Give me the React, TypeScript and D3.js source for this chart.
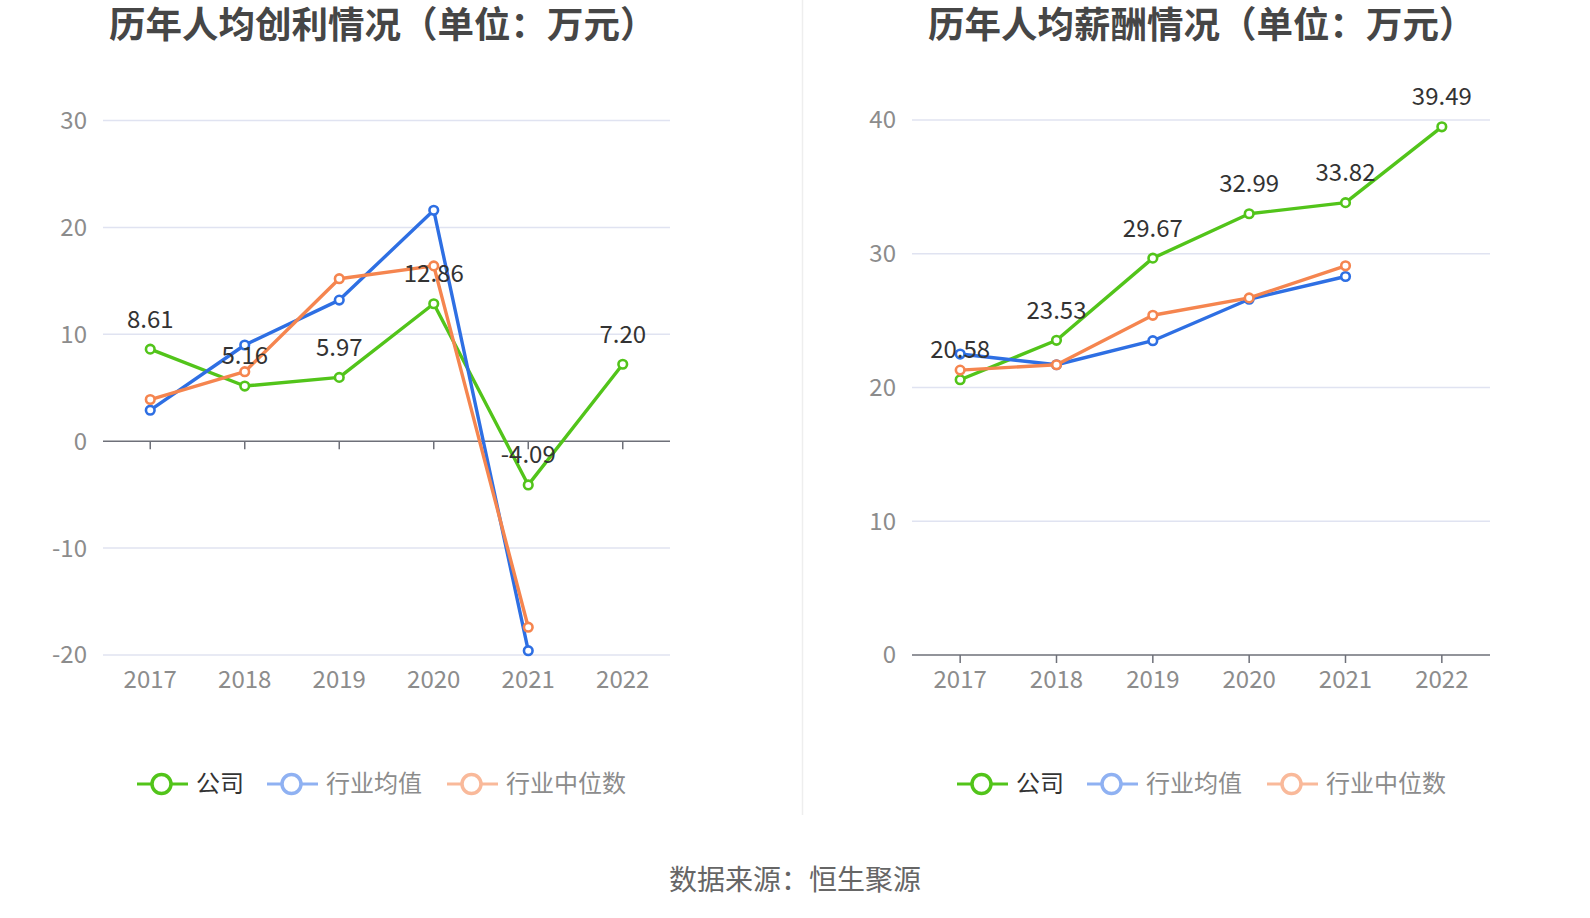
import * as d3 from "d3"
import { useEffect, useRef } from "react"

const years = ["2017", "2018", "2019", "2020", "2021", "2022"]

// 人均创利
const profitCompany = [8.61, 5.16, 5.97, 12.86, -4.09, 7.2]
const profitMean = [2.9, 9.0, 13.2, 21.6, -19.6, null]
const profitMedian = [3.9, 6.5, 15.2, 16.4, -17.4, null]
const profitTicks = [-20, -10, 0, 10, 20, 30]

// 人均薪酬
const salaryCompany = [20.58, 23.53, 29.67, 32.99, 33.82, 39.49]
const salaryMean = [22.5, 21.7, 23.5, 26.6, 28.3, null]
const salaryMedian = [21.3, 21.7, 25.4, 26.7, 29.1, null]
const salaryTicks = [0, 10, 20, 30, 40]

const seriesNames = ["公司", "行业均值", "行业中位数"]
const colors = ["#52c41a", "#2e6fe3", "#f5854f"]
const legendColors = ["#52c41a", "#8fb1f2", "#f9b99a"]
const legendText = ["#333", "#8c8c8c", "#8c8c8c"]

const font = "'Noto Sans CJK SC', 'Noto Sans', sans-serif"

type Panel = {
    title: string
    titleX: number
    x0: number
    x1: number
    yTop: number
    yBottom: number
    domain: [number, number]
    ticks: number[]
    series: (number | null)[][]
    legendX: number
}

function drawPanel(svg: d3.Selection<SVGSVGElement, unknown, null, undefined>, p: Panel) {
    const g = svg.append("g")

    const x = d3.scaleBand().domain(years).range([p.x0, p.x1])
    const y = d3.scaleLinear().domain(p.domain).range([p.yBottom, p.yTop])
    const cx = (d: string) => (x(d) ?? 0) + x.bandwidth() / 2

    // title
    g.append("text")
        .attr("x", p.titleX)
        .attr("y", 25)
        .attr("dy", "0.36em")
        .attr("font-size", 36.5)
        .attr("font-weight", "bold")
        .attr("fill", "#464646")
        .attr("font-family", font)
        .text(p.title)

    // grid lines
    g.selectAll(".grid")
        .data(p.ticks.filter((t) => t !== 0))
        .join("line")
        .attr("x1", p.x0)
        .attr("x2", p.x1)
        .attr("y1", (d) => y(d))
        .attr("y2", (d) => y(d))
        .attr("stroke", "#e0e3f1")
        .attr("stroke-width", 1.5)

    // y labels
    g.selectAll(".ylab")
        .data(p.ticks)
        .join("text")
        .attr("x", p.x0 - 16)
        .attr("y", (d) => y(d))
        .attr("dy", "0.35em")
        .attr("text-anchor", "end")
        .attr("font-size", 24)
        .attr("fill", "#8c8c8c")
        .attr("font-family", font)
        .text((d) => d)

    // zero axis
    const y0 = y(0)
    g.append("line")
        .attr("x1", p.x0)
        .attr("x2", p.x1)
        .attr("y1", y0)
        .attr("y2", y0)
        .attr("stroke", "#6e7079")
        .attr("stroke-width", 1.5)

    g.selectAll(".tick")
        .data(years)
        .join("line")
        .attr("x1", (d) => cx(d))
        .attr("x2", (d) => cx(d))
        .attr("y1", y0)
        .attr("y2", y0 + 8)
        .attr("stroke", "#6e7079")
        .attr("stroke-width", 1.5)

    // x labels
    g.selectAll(".xlab")
        .data(years)
        .join("text")
        .attr("x", (d) => cx(d))
        .attr("y", p.yBottom + 25)
        .attr("dy", "0.35em")
        .attr("text-anchor", "middle")
        .attr("font-size", 24)
        .attr("fill", "#8c8c8c")
        .attr("font-family", font)
        .text((d) => d)

    // lines
    const line = d3
        .line<number | null>()
        .defined((d) => d != null)
        .x((_, i) => cx(years[i]))
        .y((d) => y(d as number))

    p.series.forEach((s, si) => {
        g.append("path")
            .datum(s)
            .attr("fill", "none")
            .attr("stroke", colors[si])
            .attr("stroke-width", 3.4)
            .attr("stroke-linejoin", "round")
            .attr("d", line)

        g.selectAll(`.pt${si}`)
            .data(s.map((v, i) => ({ v, i })).filter((d) => d.v != null))
            .join("circle")
            .attr("cx", (d) => cx(years[d.i]))
            .attr("cy", (d) => y(d.v as number))
            .attr("r", 4.3)
            .attr("fill", "#fff")
            .attr("stroke", colors[si])
            .attr("stroke-width", 2.6)
    })

    // value labels for company
    g.selectAll(".val")
        .data(p.series[0])
        .join("text")
        .attr("x", (_, i) => cx(years[i]))
        .attr("y", (d) => y(d as number) - 30)
        .attr("dy", "0.35em")
        .attr("text-anchor", "middle")
        .attr("font-size", 24)
        .attr("fill", "#333")
        .attr("font-family", font)
        .text((d) => (d as number).toFixed(2))

    // legend
    const offsets = [0, 130, 310]
    seriesNames.forEach((name, i) => {
        const lx = p.legendX + offsets[i]
        const ly = 784
        g.append("line")
            .attr("x1", lx)
            .attr("x2", lx + 51)
            .attr("y1", ly)
            .attr("y2", ly)
            .attr("stroke", legendColors[i])
            .attr("stroke-width", 3)
        g.append("circle")
            .attr("cx", lx + 24.5)
            .attr("cy", ly)
            .attr("r", 9.5)
            .attr("fill", "#fff")
            .attr("stroke", legendColors[i])
            .attr("stroke-width", 3.5)
        g.append("text")
            .attr("x", lx + 59)
            .attr("y", ly)
            .attr("dy", "0.35em")
            .attr("font-size", 24)
            .attr("fill", legendText[i])
            .attr("font-family", font)
            .text(name)
    })
}

export default function App() {
    const svgRef = useRef<SVGSVGElement>(null)

    useEffect(() => {
        if (!svgRef.current) return
        const svg = d3.select(svgRef.current)
        svg.selectAll("*").remove()

        drawPanel(svg, {
            title: "历年人均创利情况（单位：万元）",
            titleX: 109,
            x0: 103,
            x1: 670,
            yTop: 120.5,
            yBottom: 655,
            domain: [-20, 30],
            ticks: profitTicks,
            series: [profitCompany, profitMean, profitMedian],
            legendX: 137,
        })

        drawPanel(svg, {
            title: "历年人均薪酬情况（单位：万元）",
            titleX: 928,
            x0: 912,
            x1: 1490,
            yTop: 120,
            yBottom: 655,
            domain: [0, 40],
            ticks: salaryTicks,
            series: [salaryCompany, salaryMean, salaryMedian],
            legendX: 957,
        })

        // divider
        svg.append("line")
            .attr("x1", 802.5)
            .attr("x2", 802.5)
            .attr("y1", 0)
            .attr("y2", 815)
            .attr("stroke", "#eeeeee")
            .attr("stroke-width", 1.5)

        svg.append("text")
            .attr("x", 795)
            .attr("y", 880)
            .attr("dy", "0.35em")
            .attr("text-anchor", "middle")
            .attr("font-size", 28)
            .attr("fill", "#666")
            .attr("font-family", font)
            .text("数据来源：恒生聚源")
    }, [])

    return (
        <svg
            ref={svgRef}
            width={1590}
            height={918}
            viewBox="0 0 1590 918"
            style={{ position: "absolute", left: 0, top: 0, background: "#fff" }}
        />
    )
}
